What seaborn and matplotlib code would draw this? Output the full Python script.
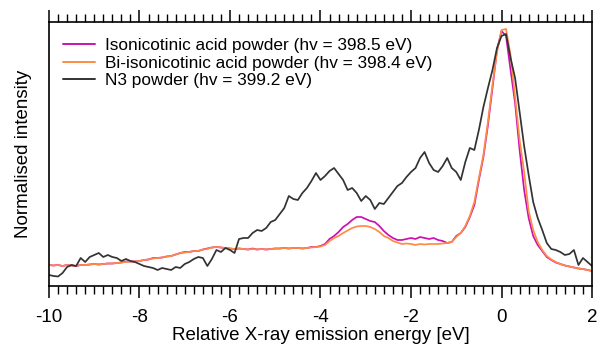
import numpy as np
import pandas as pd
import matplotlib
matplotlib.use("Agg")
import matplotlib.pyplot as plt
from matplotlib.ticker import MultipleLocator
import seaborn as sns

# Relative emission energy grid [eV]
energy = np.round(np.arange(-10.0, 2.0001, 0.1), 1)

# Intensities (arbitrary units, common scale)
isonicotinic = [
    13, 12.5, 13, 12, 13, 12.5, 12, 13, 13, 13.5,
    14, 13.5, 14, 14.5, 14.5, 15, 15.5, 16.5, 16.5, 16.5,
    17, 18, 18.5, 20, 20, 20.5, 21.5, 22, 23.5, 25,
    26, 26, 27, 27, 28.5, 29.5, 30.5, 31, 30.5, 30,
    29.5, 29, 29.5, 29, 28.5, 29.5, 28.5, 29, 28.5, 29,
    29.5, 29.5, 30, 29.5, 30, 30, 29.5, 30, 31, 31,
    32, 34, 39, 42, 46, 51, 54, 58, 61, 61,
    59, 57, 56, 52, 47, 43, 40, 38, 38, 39,
    40, 39, 41, 40, 39, 40, 38, 37, 35, 36,
    42, 45, 51, 61, 73, 98, 121, 153, 190, 228,
    247, 242, 208, 175, 128, 88, 60, 42, 33, 27,
    21, 18, 15.5, 14, 12.5, 11.5, 10.5, 9.5, 9, 8,
    7,
]

bi_isonicotinic = [
    13, 12.5, 13, 12, 13, 12.5, 12, 13, 13, 13.5,
    14, 13.5, 14, 14.5, 14.5, 15, 15.5, 16, 16.5, 16.5,
    17, 18, 18.5, 19.5, 20, 20.5, 21.5, 22, 23.5, 25,
    25.5, 26, 27, 27, 28.5, 29, 30.5, 31, 30.5, 30,
    29.5, 29, 29.5, 29, 28.5, 29, 28.5, 29, 28.5, 29,
    29.5, 29.5, 30, 29.5, 30, 30, 29.5, 30, 30.5, 31,
    31.5, 33, 37, 40, 42, 45, 47.5, 50, 51.5, 52,
    52, 51, 49, 46, 42, 40, 37, 35.5, 34, 34.5,
    34, 33, 34, 33.5, 34, 34, 34, 34.5, 35, 36,
    41, 45, 52, 62, 76, 100, 123, 156, 193, 226,
    248, 249, 223, 181, 138, 106, 67, 48, 36, 28,
    22, 18.5, 16, 14, 12.5, 11.5, 10.5, 9.5, 9, 8,
    7,
]

n3 = [
    3, 2, 1.5, 5, 11, 13, 12, 20, 16, 21,
    23, 25, 21, 23, 21, 20, 17, 19, 17, 16,
    14, 12, 11, 10, 8, 10, 9, 8, 11, 10,
    14, 16, 19, 21, 20, 12, 19, 28, 26, 30,
    28, 25, 39, 40, 40, 45, 48, 47, 50, 56,
    58, 64, 70, 82, 79, 78, 85, 90, 97, 105,
    98, 102, 107, 110, 104, 98, 88, 90, 85, 77,
    82, 78, 69, 75, 74, 80, 86, 92, 95, 101,
    106, 110, 120, 126, 115, 108, 106, 112, 120, 110,
    106, 98, 116, 130, 128, 148, 171, 190, 208, 230,
    242, 244, 220, 200, 166, 132, 103, 76, 60, 48,
    35, 29, 28, 26, 23, 24, 28, 13, 20, 16,
    12,
]

labels = [
    "Isonicotinic acid powder (hv = 398.5 eV)",
    "Bi-isonicotinic acid powder (hv = 398.4 eV)",
    "N3 powder (hv = 399.2 eV)",
]
colors = ["#cc10b0", "#ff8a48", "#333333"]

df = pd.concat(
    [
        pd.DataFrame({"energy": energy, "intensity": vals, "sample": lab})
        for lab, vals in zip(labels, [isonicotinic, bi_isonicotinic, n3])
    ],
    ignore_index=True,
)

sns.set_style("ticks")
plt.rcParams["font.family"] = ["Liberation Sans", "DejaVu Sans"]
plt.rcParams["axes.unicode_minus"] = False
plt.rcParams["text.color"] = "black"
plt.rcParams["axes.labelcolor"] = "black"

fig = plt.figure(figsize=(5.98, 3.47), dpi=100)
ax = fig.add_axes([0.0819, 0.1758, 0.9081, 0.7608])

sns.lineplot(
    data=df, x="energy", y="intensity", hue="sample",
    hue_order=labels, palette=colors, linewidth=1.25, ax=ax,
    estimator=None, sort=False,
)

ax.set_xlim(-10, 2)
ax.set_ylim(-8, 256)
ax.set_yticks([])
ax.xaxis.set_major_locator(MultipleLocator(2))
ax.xaxis.set_minor_locator(MultipleLocator(0.2))
ax.tick_params(axis="x", which="both", direction="out", top=True,
               bottom=True, labeltop=False, colors="black",
               labelcolor="black", labelsize=13.5)
ax.tick_params(axis="x", which="major", length=8.5, width=1.1, pad=8)
ax.tick_params(axis="x", which="minor", length=5.5, width=1.0)
for side in ["left", "right", "top", "bottom"]:
    ax.spines[side].set_visible(True)
    ax.spines[side].set_linewidth(1.2)
    ax.spines[side].set_color("black")

ax.set_xlabel("Relative X-ray emission energy [eV]", fontsize=13.5,
              labelpad=1, color="black")
ax.set_ylabel("Normalised intensity", fontsize=13.5, labelpad=12,
              color="black")

leg = ax.legend(loc="upper left", frameon=False, fontsize=12.4,
                handlelength=1.9, handletextpad=0.55, labelspacing=0.12,
                borderaxespad=0.4, bbox_to_anchor=(0.0, 0.99))
for line in leg.get_lines():
    line.set_linewidth(1.4)
for txt in leg.get_texts():
    txt.set_color("black")

fig.savefig("out.png", dpi=100)
